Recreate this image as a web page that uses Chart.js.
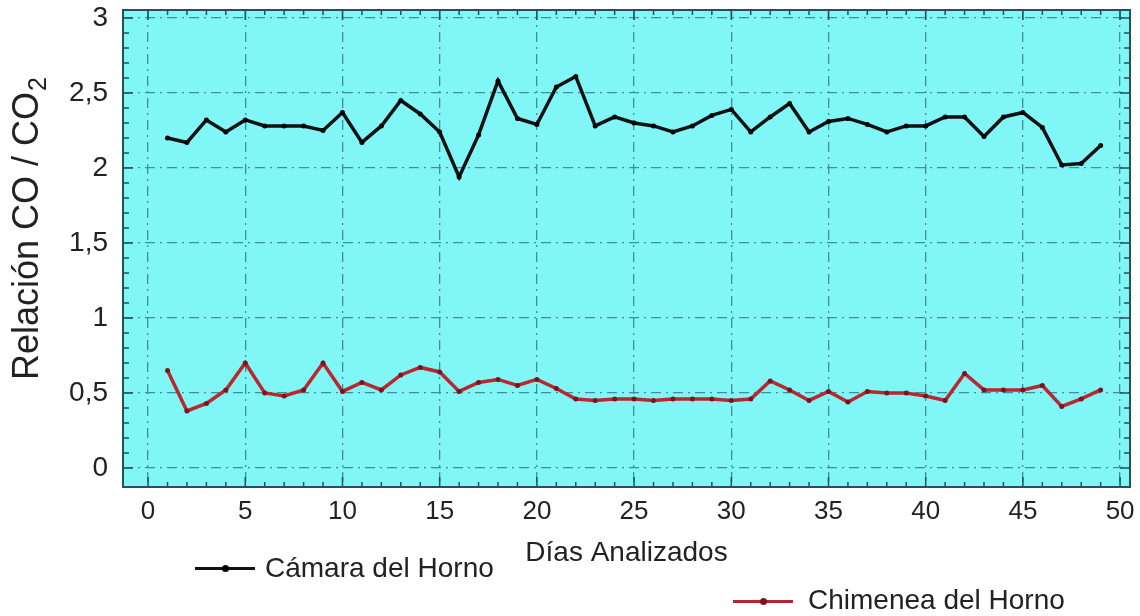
<!DOCTYPE html>
<html>
<head>
<meta charset="utf-8">
<script src="https://cdn.jsdelivr.net/npm/chart.js@4.4.1/dist/chart.umd.min.js"></script>
<style>
  html, body { margin: 0; padding: 0; background: #fff; }
  #wrap { position: relative; width: 1140px; height: 616px; }
  .leg { position: absolute; font-family: "Liberation Sans", Arial, sans-serif; font-size: 28px; line-height: 28px; color: #222; white-space: nowrap; }
  .sample { position: absolute; width: 60px; height: 3px; }
  .sample i { position: absolute; left: 27px; top: -2px; width: 7px; height: 7px; border-radius: 50%; }
</style>
</head>
<body>
<div id="wrap">
  <canvas id="chart-relacion" width="1140" height="616"></canvas>
  <div class="sample" style="left:195px; top:567px; background:#111;"><i style="background:#000;"></i></div>
  <div class="leg" style="left:265px; top:554px;">Cámara del Horno</div>
  <div class="sample" style="left:733px; top:600px; background:#b52533;"><i style="background:#7a1520;"></i></div>
  <div class="leg" style="left:808px; top:586px;">Chimenea del Horno</div>
</div>
<script>
const dias = [1, 2, 3, 4, 5, 6, 7, 8, 9, 10, 11, 12, 13, 14, 15, 16, 17, 18, 19, 20, 21, 22, 23, 24, 25,
    26, 27, 28, 29, 30, 31, 32, 33, 34, 35, 36, 37, 38, 39, 40, 41, 42, 43, 44, 45, 46, 47, 48, 49];

const camara = [2.20, 2.17, 2.32, 2.24, 2.32, 2.28, 2.28, 2.28, 2.25, 2.37, 2.17, 2.28, 2.45, 2.36, 2.24,
    1.94, 2.22, 2.58, 2.33, 2.29, 2.54, 2.61, 2.28, 2.34, 2.30, 2.28, 2.24, 2.28, 2.35, 2.39,
    2.24, 2.34, 2.43, 2.24, 2.31, 2.33, 2.29, 2.24, 2.28, 2.28, 2.34, 2.34, 2.21, 2.34, 2.37,
    2.27, 2.02, 2.03, 2.15];

const chimenea = [0.65, 0.38, 0.43, 0.52, 0.70, 0.50, 0.48, 0.52, 0.70, 0.51, 0.57, 0.52, 0.62, 0.67, 0.64,
    0.51, 0.57, 0.59, 0.55, 0.59, 0.53, 0.46, 0.45, 0.46, 0.46, 0.45, 0.46, 0.46, 0.46, 0.45,
    0.46, 0.58, 0.52, 0.45, 0.51, 0.44, 0.51, 0.50, 0.50, 0.48, 0.45, 0.63, 0.52, 0.52, 0.52,
    0.55, 0.41, 0.46, 0.52];

const xTicks = [0, 5, 10, 15, 20, 25, 30, 35, 40, 45, 50];
const yTicks = [0, 0.5, 1, 1.5, 2, 2.5, 3];

const FONT = '"Liberation Sans", Arial, sans-serif';
const frameColor = '#23525a';

// fondo cian, marco y marcas hacia dentro, titulo del eje y con subindice
const framePlugin = {
    id: 'frame',
    beforeDraw(chart) {
        const { ctx, chartArea: a } = chart;
        ctx.save();
        ctx.fillStyle = '#80f6f7';
        ctx.fillRect(a.left, a.top, a.right - a.left, a.bottom - a.top);
        ctx.restore();
    },
    afterDraw(chart) {
        const { ctx, chartArea: a, scales } = chart;
        ctx.save();
        ctx.strokeStyle = frameColor;
        ctx.lineWidth = 1.5;
        ctx.beginPath();
        for (let v = 0; v <= 50; v += 1) {
            const px = scales.x.getPixelForValue(v);
            const len = v % 5 === 0 ? 10 : 5;
            ctx.moveTo(px, a.bottom); ctx.lineTo(px, a.bottom - len);
            ctx.moveTo(px, a.top); ctx.lineTo(px, a.top + len);
        }
        for (let i = 0; i <= 30; i++) {
            const py = scales.y.getPixelForValue(i / 10);
            const len = i % 5 === 0 ? 10 : 6;
            ctx.moveTo(a.left, py); ctx.lineTo(a.left + len, py);
            ctx.moveTo(a.right, py); ctx.lineTo(a.right - len, py);
        }
        ctx.stroke();
        ctx.lineWidth = 2;
        ctx.strokeRect(a.left, a.top, a.right - a.left, a.bottom - a.top);

        // titulo eje Y
        ctx.translate(28, 380);
        ctx.rotate(-Math.PI / 2);
        ctx.fillStyle = '#222';
        ctx.textBaseline = 'middle';
        ctx.textAlign = 'left';
        ctx.font = '36px ' + FONT;
        const txt = 'Relación CO / CO';
        ctx.fillText(txt, 0, 0);
        const w = ctx.measureText(txt).width;
        ctx.font = '25px ' + FONT;
        ctx.fillText('2', w + 1, 11);
        ctx.restore();
    },
};

const comma = (v) => String(v).replace('.', ',');

new Chart(document.getElementById('chart-relacion'), {
    type: 'line',
    data: {
        labels: dias,
        datasets: [
            {
                label: 'Cámara del Horno',
                data: dias.map((d, i) => ({ x: d, y: camara[i] })),
                borderColor: '#111',
                backgroundColor: '#000',
                borderWidth: 3.5,
                pointRadius: 2.5,
                pointBorderWidth: 0,
                tension: 0,
            },
            {
                label: 'Chimenea del Horno',
                data: dias.map((d, i) => ({ x: d, y: chimenea[i] })),
                borderColor: '#b8282e',
                backgroundColor: '#7a1520',
                borderWidth: 3.5,
                pointRadius: 2.5,
                pointBorderWidth: 0,
                tension: 0,
            },
        ],
    },
    options: {
        responsive: false,
        animation: false,
        devicePixelRatio: 1,
        layout: { padding: { left: 0, right: 10, top: 10, bottom: 0 } },
        plugins: {
            legend: { display: false },
            tooltip: { enabled: false },
        },
        scales: {
            x: {
                type: 'linear',
                min: -1.29,
                max: 50.51,
                afterBuildTicks: (s) => { s.ticks = xTicks.map((v) => ({ value: v })); },
                afterFit: (s) => { s.height = 129; s.paddingLeft = 0; s.paddingRight = 0; },
                grid: { color: '#3f8e98', lineWidth: 1.3, drawTicks: false },
                border: { display: false, dash: [10, 5, 2, 5] },
                ticks: { color: '#222', padding: 9, maxRotation: 0, font: { family: FONT, size: 26 } },
                title: {
                    display: true,
                    text: 'Días Analizados',
                    color: '#222',
                    font: { family: FONT, size: 28 },
                    padding: { top: 0, bottom: 46 },
                },
            },
            y: {
                min: -0.127,
                max: 3.053,
                afterBuildTicks: (s) => { s.ticks = yTicks.map((v) => ({ value: v })); },
                afterFit: (s) => { s.width = 123; s.paddingTop = 0; s.paddingBottom = 0; },
                grid: { color: '#3f8e98', lineWidth: 1.3, drawTicks: false },
                border: { display: false, dash: [10, 5, 2, 5] },
                ticks: { color: '#222', padding: 15, callback: (v) => comma(v), font: { family: FONT, size: 28 } },
            },
        },
    },
    plugins: [framePlugin],
});
</script>
</body>
</html>
